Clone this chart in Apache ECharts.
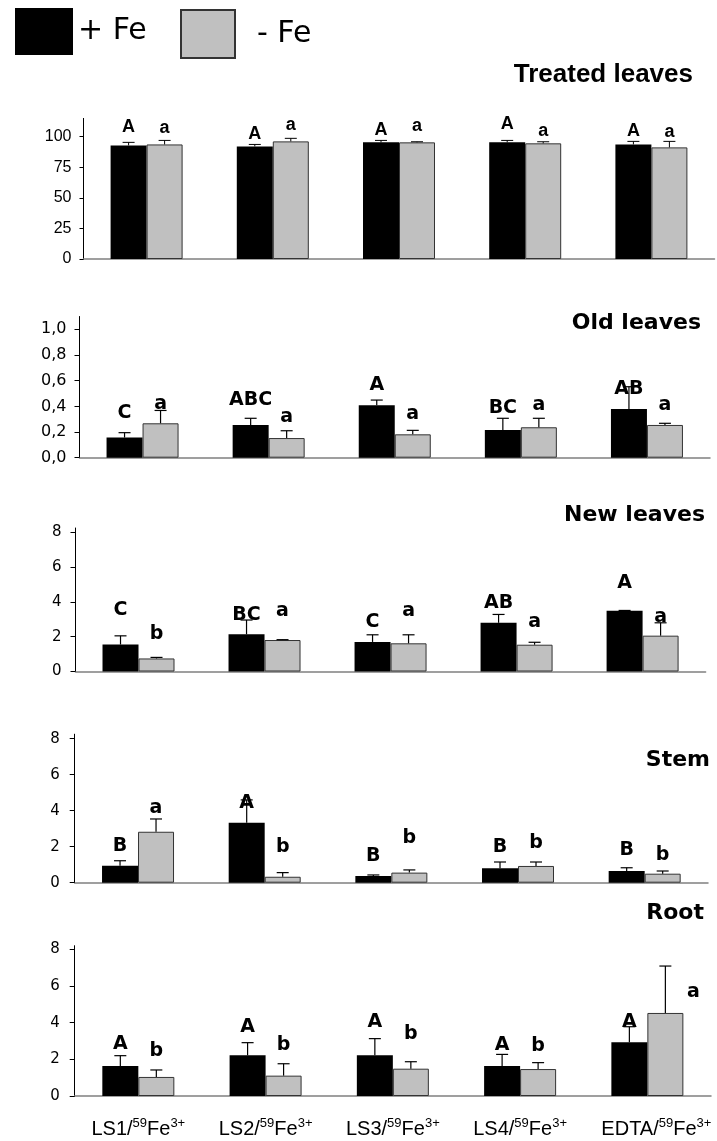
<!DOCTYPE html>
<html>
<head>
<meta charset="utf-8">
<script src="https://cdn.jsdelivr.net/npm/echarts@6/dist/echarts.min.js"></script>
<style>
  html, body { margin: 0; padding: 0; background: #fff; }
  #chart { width: 717px; height: 1141px; }
</style>
</head>
<body>
<div id="chart"></div>
<script>
// ---- data ----------------------------------------------------------------
const categories = ['LS1', 'LS2', 'LS3', 'LS4', 'EDTA'];
const seriesNames = ['+ Fe', '- Fe'];
const panelTitles = ['Treated leaves', 'Old leaves', 'New leaves', 'Stem', 'Root'];

const percentTicks = [0, 25, 50, 75, 100];
const oldTicks = [0, 0.2, 0.4, 0.6, 0.8, 1.0];
const countTicks = [0, 2, 4, 6, 8];

// Treated leaves
const treatedPlus = [92.9, 92.1, 95.4, 95.4, 93.7];
const treatedPlusSE = [2.5, 1.6, 1.6, 1.6, 2.5];
const treatedMinus = [93.7, 96.2, 95.4, 94.6, 91.3];
const treatedMinusSE = [3.3, 2.5, 0.5, 1.3, 4.9];
const treatedPlusLetters = ['A', 'A', 'A', 'A', 'A'];
const treatedMinusLetters = ['a', 'a', 'a', 'a', 'a'];
const treatedPlusLetterAt = [108, 102, 105.5, 110, 105];
const treatedMinusLetterAt = [106.8, 109.6, 109, 105, 103.6];

// Old leaves
const oldPlus = [0.157, 0.255, 0.408, 0.216, 0.379];
const oldPlusSE = [0.038, 0.052, 0.041, 0.091, 0.174];
const oldMinus = [0.268, 0.153, 0.182, 0.237, 0.255];
const oldMinusSE = [0.10, 0.057, 0.031, 0.07, 0.013];
const oldPlusLetters = ['C', 'ABC', 'A', 'BC', 'AB'];
const oldMinusLetters = ['a', 'a', 'a', 'a', 'a'];
const oldPlusLetterAt = [0.345, 0.449, 0.566, 0.385, 0.532];
const oldMinusLetterAt = [0.42, 0.32, 0.34, 0.41, 0.41];

// New leaves
const newPlus = [1.55, 2.14, 1.70, 2.80, 3.49];
const newPlusSE = [0.50, 0.82, 0.41, 0.48, 0.02];
const newMinus = [0.75, 1.81, 1.62, 1.54, 2.06];
const newMinusSE = [0.06, 0.02, 0.49, 0.14, 0.74];
const newPlusLetters = ['C', 'BC', 'C', 'AB', 'A'];
const newMinusLetters = ['b', 'a', 'a', 'a', 'a'];
const newPlusLetterAt = [3.53, 3.25, 2.86, 3.92, 5.1];
const newMinusLetterAt = [2.17, 3.5, 3.5, 2.83, 3.15];

// Stem
const stemPlus = [0.94, 3.33, 0.37, 0.80, 0.65];
const stemPlusSE = [0.28, 1.27, 0.06, 0.35, 0.18];
const stemMinus = [2.83, 0.33, 0.56, 0.93, 0.50];
const stemMinusSE = [0.71, 0.23, 0.15, 0.22, 0.15];
const stemPlusLetters = ['B', 'A', 'B', 'B', 'B'];
const stemMinusLetters = ['a', 'b', 'b', 'b', 'b'];
const stemPlusLetterAt = [2.04, 4.41, 1.5, 2.0, 1.82];
const stemMinusLetterAt = [4.17, 2.0, 2.46, 2.22, 1.54];

// Root
const rootPlus = [1.64, 2.22, 2.22, 1.64, 2.93];
const rootPlusSE = [0.56, 0.69, 0.91, 0.63, 0.85];
const rootMinus = [1.04, 1.11, 1.49, 1.47, 4.53];
const rootMinusSE = [0.38, 0.65, 0.38, 0.35, 2.56];
const rootPlusLetters = ['A', 'A', 'A', 'A', 'A'];
const rootMinusLetters = ['b', 'b', 'b', 'b', 'a'];
const rootPlusLetterAt = [2.84, 3.78, 4.02, 2.78, 4.02];
const rootMinusLetterAt = [2.47, 2.78, 3.38, 2.73, 5.69];

// ---- panel assembly --------------------------------------------------------
const panels = [
  { plus: treatedPlus, plusSE: treatedPlusSE, minus: treatedMinus, minusSE: treatedMinusSE,
    plusL: treatedPlusLetters, minusL: treatedMinusLetters, plusAt: treatedPlusLetterAt, minusAt: treatedMinusLetterAt,
    ticks: percentTicks },
  { plus: oldPlus, plusSE: oldPlusSE, minus: oldMinus, minusSE: oldMinusSE,
    plusL: oldPlusLetters, minusL: oldMinusLetters, plusAt: oldPlusLetterAt, minusAt: oldMinusLetterAt,
    ticks: oldTicks },
  { plus: newPlus, plusSE: newPlusSE, minus: newMinus, minusSE: newMinusSE,
    plusL: newPlusLetters, minusL: newMinusLetters, plusAt: newPlusLetterAt, minusAt: newMinusLetterAt,
    ticks: countTicks },
  { plus: stemPlus, plusSE: stemPlusSE, minus: stemMinus, minusSE: stemMinusSE,
    plusL: stemPlusLetters, minusL: stemMinusLetters, plusAt: stemPlusLetterAt, minusAt: stemMinusLetterAt,
    ticks: countTicks },
  { plus: rootPlus, plusSE: rootPlusSE, minus: rootMinus, minusSE: rootMinusSE,
    plusL: rootPlusLetters, minusL: rootMinusLetters, plusAt: rootPlusLetterAt, minusAt: rootMinusLetterAt,
    ticks: countTicks }
];

// ---- layout & style ----------------------------------------------------------
const ARIAL = '"Liberation Sans", Arial, sans-serif';
const DEJAVU = '"DejaVu Sans", Verdana, sans-serif';
const BAR_W = 36;
const CAP_HALF = 6;

const layout = [
  { left: 83.5, right: 2.5, top: 118.4, height: 140.6, max: 115,
    tickFont: ARIAL, tickSize: 16, tickLen: 4, labelMargin: 12,
    letterFont: 'bold 18px ' + ARIAL, errW: 1,
    titleFont: 'bold 26px ' + ARIAL, titleX: 693, titleY: 75 },
  { left: 79.5, right: 7, top: 316.5, height: 141.2, max: 1.1,
    tickFont: DEJAVU, tickSize: 16, tickLen: 5, labelMargin: 13,
    letterFont: 'bold 19px ' + DEJAVU, errW: 1.2,
    titleFont: 'bold 22px ' + DEJAVU, titleX: 701, titleY: 323 },
  { left: 75.5, right: 11.4, top: 528, height: 143.5, max: 8.25,
    tickFont: DEJAVU, tickSize: 15, tickLen: 5, labelMargin: 14,
    letterFont: 'bold 19px ' + DEJAVU, errW: 1.2,
    titleFont: 'bold 22px ' + DEJAVU, titleX: 705, titleY: 515 },
  { left: 74.7, right: 9, top: 734.2, height: 148.5, max: 8.25,
    tickFont: DEJAVU, tickSize: 15, tickLen: 5, labelMargin: 15,
    letterFont: 'bold 19px ' + DEJAVU, errW: 1.2,
    titleFont: 'bold 22px ' + DEJAVU, titleX: 710, titleY: 760 },
  { left: 74.7, right: 6, top: 945.7, height: 150.3, max: 8.2,
    tickFont: DEJAVU, tickSize: 15, tickLen: 5, labelMargin: 15,
    letterFont: 'bold 19px ' + DEJAVU, errW: 1.2,
    titleFont: 'bold 22px ' + DEJAVU, titleX: 704, titleY: 913,
    // the last "-Fe" letter sits beside its tall error bar rather than on it
    minusLetterShift: [0, 0, 0, 0, 28] }
];

function tickFormatter(i) {
  if (i === 1) return v => v.toFixed(1).replace('.', ',');
  return v => String(Math.round(v));
}

// error bars (upward only) and significance letters for one panel
function makeAnnotations(p, l) {
  const items = [];
  const letters = [];
  const shifts = [];
  p.plus.forEach((v, k) => {
    items.push([k, v, v + p.plusSE[k], p.plusAt[k], 0]);
    letters.push(p.plusL[k]); shifts.push(0);
  });
  p.minus.forEach((v, k) => {
    items.push([k, v, v + p.minusSE[k], p.minusAt[k], 1]);
    letters.push(p.minusL[k]); shifts.push(l.minusLetterShift ? l.minusLetterShift[k] : 0);
  });
  const renderItem = (params, api) => {
    const cat = api.value(0);
    const base = api.coord([cat, api.value(1)]);
    const top = api.coord([cat, api.value(2)]);
    const lab = api.coord([cat, api.value(3)]);
    const x = base[0] + (api.value(4) ? 1 : -1) * BAR_W / 2;
    const stroke = { stroke: '#000', lineWidth: l.errW };
    return {
      type: 'group',
      children: [
        { type: 'line', shape: { x1: x, y1: base[1], x2: x, y2: top[1] }, style: stroke },
        { type: 'line', shape: { x1: x - CAP_HALF, y1: top[1], x2: x + CAP_HALF, y2: top[1] }, style: stroke },
        { type: 'text', x: x + shifts[params.dataIndex], y: lab[1],
          style: { text: letters[params.dataIndex], font: l.letterFont, fill: '#000',
                   align: 'center', verticalAlign: 'middle' } }
      ]
    };
  };
  return { items, renderItem };
}

const grid = [], xAxis = [], yAxis = [], series = [];

panels.forEach((p, i) => {
  const l = layout[i];
  grid.push({ left: l.left, right: l.right, top: l.top, height: l.height, containLabel: false });

  xAxis.push({
    type: 'category', gridIndex: i, data: categories,
    axisTick: { show: false },
    axisLine: { lineStyle: { color: '#808080', width: 1.5 } },
    axisLabel: i === 4 ? {
      show: true, interval: 0, margin: 21, color: '#000',
      formatter: (c, idx) => (idx === 4 ? '{p|}' : '') + '{m|' + c + '/}{s|59}{m|Fe}{s|3+}',
      rich: {
        m: { fontFamily: ARIAL, fontSize: 20, lineHeight: 24, color: '#000' },
        s: { fontFamily: ARIAL, fontSize: 13, lineHeight: 14, verticalAlign: 'top', color: '#000' },
        p: { width: 18 }
      }
    } : { show: false }
  });

  yAxis.push({
    type: 'value', gridIndex: i, min: 0, max: l.max,
    splitLine: { show: false },
    axisLine: { show: true, lineStyle: { color: '#000', width: 1 } },
    axisTick: { show: true, length: l.tickLen, customValues: p.ticks, lineStyle: { color: '#000' } },
    axisLabel: { customValues: p.ticks, formatter: tickFormatter(i), margin: l.labelMargin,
                 color: '#000', fontFamily: l.tickFont, fontSize: l.tickSize }
  });

  series.push({
    type: 'bar', name: seriesNames[0], xAxisIndex: i, yAxisIndex: i,
    data: p.plus, barWidth: BAR_W, barGap: '0%', silent: true,
    itemStyle: { color: '#000' }
  });
  series.push({
    type: 'bar', name: seriesNames[1], xAxisIndex: i, yAxisIndex: i,
    data: p.minus, barWidth: BAR_W, barGap: '0%', silent: true,
    itemStyle: { color: '#c0c0c0', borderColor: '#333', borderWidth: 1 }
  });
  const ann = makeAnnotations(p, l);
  series.push({
    type: 'custom', xAxisIndex: i, yAxisIndex: i, data: ann.items,
    renderItem: ann.renderItem, clip: false, silent: true, z: 5
  });
});

const titles = panelTitles.map((t, i) => ({
  type: 'text', x: layout[i].titleX, y: layout[i].titleY, silent: true,
  style: { text: t, font: layout[i].titleFont, fill: '#000', align: 'right', verticalAlign: 'middle' }
}));

const chart = echarts.init(document.getElementById('chart'), null, { renderer: 'canvas' });
chart.setOption({
  animation: false,
  backgroundColor: '#fff',
  legend: [
    { data: [seriesNames[0]], left: 15, top: 8, padding: 0, icon: 'rect',
      itemWidth: 58, itemHeight: 47, selectedMode: false,
      textStyle: { fontFamily: DEJAVU, fontSize: 30, color: '#000' } },
    { data: [seriesNames[1]], left: 180, top: 9, padding: 0, icon: 'rect',
      itemWidth: 54, itemHeight: 48, selectedMode: false,
      textStyle: { fontFamily: DEJAVU, fontSize: 30, color: '#000', padding: [0, 0, 0, 17] } }
  ],
  grid, xAxis, yAxis, series,
  graphic: titles
});
</script>
</body>
</html>
